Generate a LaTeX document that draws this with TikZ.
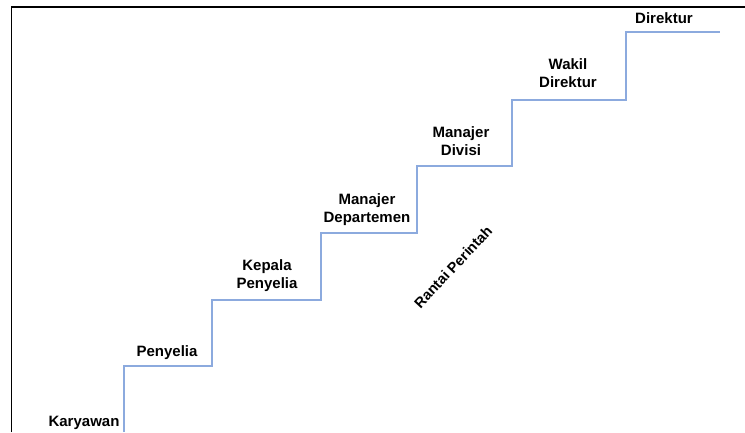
\documentclass[tikz,border=0pt]{standalone}
\usepackage{fontspec}
\setmainfont{Liberation Sans}
\begin{document}
\begin{tikzpicture}[x=1pt,y=-1pt,
  stairline/.style={draw=stairblue, line width=1.3pt},
  framebar/.style={draw=black, line width=1.6pt},
  rung/.style={font=\fontsize{15}{17.5}\selectfont\bfseries, inner sep=0pt, align=center, anchor=base},
]
\definecolor{stairblue}{RGB}{140,170,222}
\useasboundingbox (0,0) rectangle (745,432);
% outer frame (top and left edges)
\draw[framebar] (11.5,432) -- (11.5,7) -- (745,7);
% corner points of the staircase
\coordinate (s0) at (124,432);
\coordinate (s1) at (124,366);
\coordinate (s2) at (212,366);
\coordinate (s3) at (212,300);
\coordinate (s4) at (321,300);
\coordinate (s5) at (321,233);
\coordinate (s6) at (417,233);
\coordinate (s7) at (417,166);
\coordinate (s8) at (512,166);
\coordinate (s9) at (512,100);
\coordinate (s10) at (626,100);
\coordinate (s11) at (626,32);
\coordinate (s12) at (720,32);
\draw[stairline] (s0) -- (s1) -- (s2) -- (s3) -- (s4) -- (s5) -- (s6) -- (s7)
  -- (s8) -- (s9) -- (s10) -- (s11) -- (s12);
% rank labels on each step (base = baseline of the last line)
\node[rung] (karyawan) at (84,426) {Karyawan};
\node[rung] (penyelia) at (167,356) {Penyelia};
\node[rung] (kepala) at (267,288) {Kepala\\Penyelia};
\node[rung] (mandept) at (367,222) {Manajer\\Departemen};
\node[rung] (mandiv) at (461,155) {Manajer\\Divisi};
\node[rung] (wakil) at (568,87) {Wakil\\Direktur};
\node[rung] (direktur) at (664,23) {Direktur};
% diagonal caption
\node[font=\fontsize{14.5}{17}\selectfont\bfseries, inner sep=0pt, rotate=47] (rantai) at (453,267) {Rantai Perintah};
\end{tikzpicture}
\end{document}
